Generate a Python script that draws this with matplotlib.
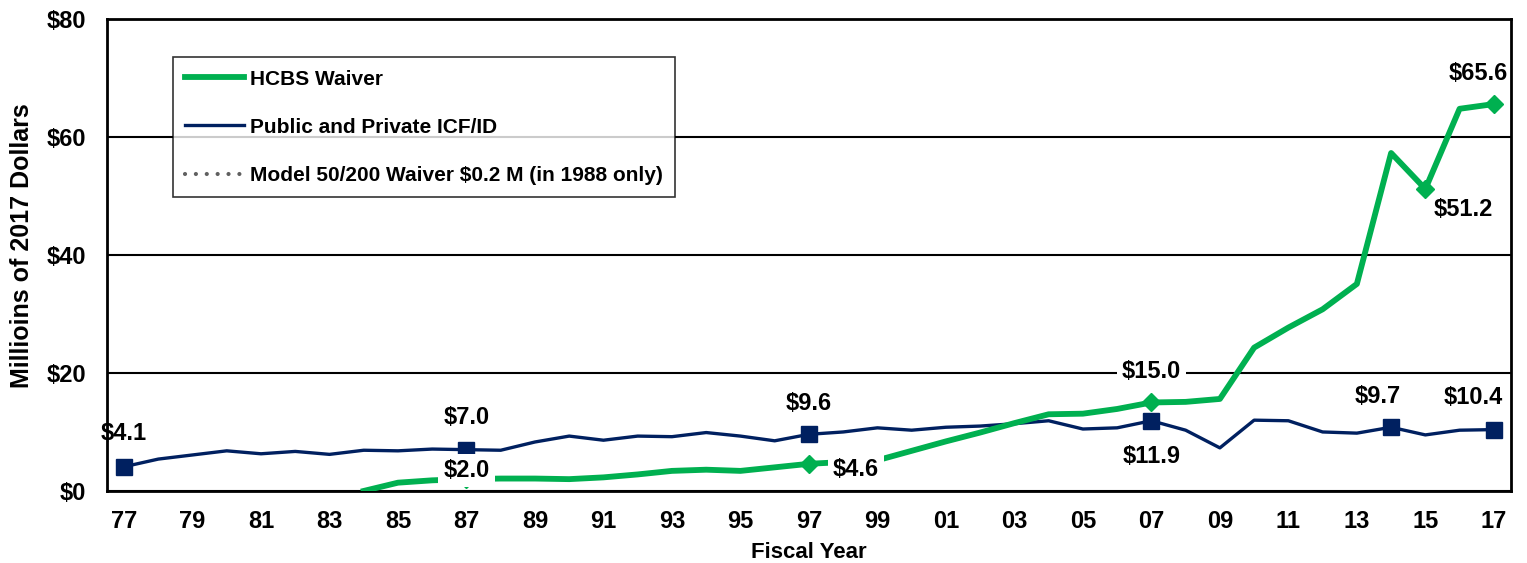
import matplotlib
matplotlib.use("Agg")
import matplotlib.pyplot as plt
from matplotlib.lines import Line2D

plt.rcParams["font.family"] = ["Liberation Sans", "DejaVu Sans"]
plt.rcParams["font.weight"] = "bold"

# ── data ──────────────────────────────────────────────
icf_years = list(range(1977, 2018))
icf_vals = [4.1, 5.4, 6.1, 6.8, 6.3, 6.7, 6.2, 6.9, 6.8, 7.1,
            7.0, 6.9, 8.3, 9.3, 8.6, 9.3, 9.2, 9.9, 9.3, 8.5,
            9.6, 10.0, 10.7, 10.3, 10.8, 11.0, 11.4, 11.9, 10.5, 10.7,
            11.9, 10.3, 7.3, 12.0, 11.9, 10.0, 9.8, 10.8, 9.5, 10.3,
            10.4]

hcbs_years = list(range(1984, 2018))
hcbs_vals = [0.0, 1.4, 1.8, 2.0, 2.1, 2.1, 2.0, 2.3, 2.8, 3.4,
             3.6, 3.4, 4.0, 4.6, 4.9, 5.2, 6.8, 8.4, 9.9, 11.5,
             13.0, 13.1, 13.9, 15.0, 15.1, 15.6, 24.3, 27.7, 30.8, 35.1,
             57.3, 51.2, 64.8, 65.6]

model_years = [1988]
model_vals = [0.2]

icf_labels = {1977: "$4.1", 1987: "$7.0", 1997: "$9.6", 2007: "$11.9",
              2014: "$9.7", 2017: "$10.4"}
hcbs_labels = {1987: "$2.0", 1997: "$4.6", 2007: "$15.0", 2015: "$51.2",
               2017: "$65.6"}

# label placement (offset in points, white box?)
icf_pos = {1977: (0, 24, False), 1987: (0, 23, False), 1997: (0, 22, False),
           2007: (0, -26, False), 2014: (-10, 22, False), 2017: (-15, 23, False)}
hcbs_pos = {1987: (0, 6, True), 1997: (34, -4, True), 2007: (0, 22, True),
            2015: (27, -15, False), 2017: (-11, 22, False)}

green = "#00B050"
navy = "#002060"
grey = "#606060"
dots = (0, (0.01, 2.6))

fig = plt.figure(figsize=(15.27, 5.63), dpi=100)
ax = fig.add_axes([0.070, 0.128, 0.9195, 0.838])

ax.plot(icf_years, icf_vals, color=navy, lw=2.4, marker="s", ms=12,
        markevery=[icf_years.index(y) for y in icf_labels], zorder=3)
ax.plot(hcbs_years, hcbs_vals, color=green, lw=4.2, marker="D", ms=9,
        markevery=[hcbs_years.index(y) for y in hcbs_labels], zorder=4)
ax.plot(model_years, model_vals, color=grey, lw=3, linestyle=dots,
        dash_capstyle="round")

for yr, txt in icf_labels.items():
    dx, dy, box = icf_pos[yr]
    ax.annotate(txt, (yr, icf_vals[icf_years.index(yr)]), xytext=(dx, dy),
                textcoords="offset points", ha="center", va="center",
                fontsize=17, fontweight="bold", zorder=6)
for yr, txt in hcbs_labels.items():
    dx, dy, box = hcbs_pos[yr]
    bb = dict(fc="white", ec="none", pad=3.5) if box else None
    ax.annotate(txt, (yr, hcbs_vals[hcbs_years.index(yr)]), xytext=(dx, dy),
                textcoords="offset points", ha="center", va="center",
                fontsize=17, fontweight="bold", bbox=bb, zorder=6)

ax.set_xlim(1976.5, 2017.5)
ax.set_ylim(0, 80)
ax.set_yticks([0, 20, 40, 60, 80])
ax.set_yticklabels(["$0", "$20", "$40", "$60", "$80"])
xt = list(range(1977, 2018, 2))
ax.set_xticks(xt)
ax.set_xticklabels([f"{y % 100:02d}" for y in xt])
ax.tick_params(length=0, labelsize=17)
ax.tick_params(axis="x", pad=14)
ax.tick_params(axis="y", pad=15)
ax.yaxis.grid(True, color="black", lw=1.5)
ax.set_axisbelow(True)
for s in ax.spines.values():
    s.set_linewidth(2)
    s.set_color("black")

ax.set_xlabel("Fiscal Year", fontsize=16, fontweight="bold", labelpad=6)
ax.set_ylabel("Millioins of 2017 Dollars", fontsize=18, fontweight="bold")
ax.yaxis.set_label_coords(-0.052, 0.521)

handles = [Line2D([], [], color=green, lw=4.2),
           Line2D([], [], color=navy, lw=2.4),
           Line2D([], [], color=grey, lw=3, linestyle=dots,
                  dash_capstyle="round")]
names = ["HCBS Waiver", "Public and Private ICF/ID",
         "Model 50/200 Waiver $0.2 M (in 1988 only)"]
leg = ax.legend(handles, names, loc="upper left", bbox_to_anchor=(0.047, 0.9195),
                borderaxespad=0, fontsize=15, frameon=True, fancybox=False,
                edgecolor="black", handlelength=2.8, labelspacing=1.4,
                borderpad=0.6, handletextpad=0.3)
leg.get_frame().set_linewidth(1.2)
leg.set_zorder(7)

fig.savefig("out.png", dpi=100)
